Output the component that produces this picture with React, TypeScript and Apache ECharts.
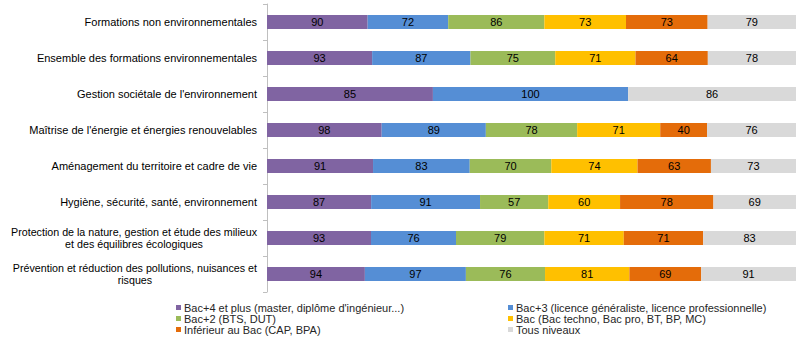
import React, { useEffect, useRef } from "react";
import * as echarts from "echarts";

const categories = [
  "Formations non environnementales",
  "Ensemble des formations environnementales",
  "Gestion sociétale de l'environnement",
  "Maîtrise de l'énergie et énergies renouvelables",
  "Aménagement du territoire et cadre de vie",
  "Hygiène, sécurité, santé, environnement",
  "Protection de la nature, gestion et étude des milieux\net des équilibres écologiques",
  "Prévention et réduction des pollutions, nuisances et\nrisques",
];

const seriesNames = [
  "Bac+4 et plus (master, diplôme d'ingénieur...)",
  "Bac+3 (licence généraliste, licence professionnelle)",
  "Bac+2 (BTS, DUT)",
  "Bac (Bac techno, Bac pro, BT, BP, MC)",
  "Inférieur au Bac (CAP, BPA)",
  "Tous niveaux",
];

const bac4 = [90, 93, 85, 98, 91, 87, 93, 94];
const bac3 = [72, 87, 100, 89, 83, 91, 76, 97];
const bac2 = [86, 75, null, 78, 70, 57, 79, 76];
const bac = [73, 71, null, 71, 74, 60, 71, 81];
const infBac = [73, 64, null, 40, 63, 78, 71, 69];
const tous = [79, 78, 86, 76, 73, 69, 83, 91];

const colors = ["#8064A2", "#558ED5", "#9BBB59", "#FFC000", "#E46C0A", "#D9D9D9"];

const FONT = "'Liberation Sans', Arial, sans-serif";

export default function App() {
  const ref = useRef<HTMLDivElement>(null);
  useEffect(() => {
    if (!ref.current) return;
    const chart = echarts.init(ref.current, undefined, { renderer: "svg" });
    const allSeries = [bac4, bac3, bac2, bac, infBac, tous];
    const totals = categories.map((_, i) =>
      allSeries.reduce((s, arr) => s + (arr[i] == null ? 0 : (arr[i] as number)), 0)
    );
    const series = allSeries.map((arr, si) => ({
      name: seriesNames[si],
      type: "bar",
      stack: "total",
      barWidth: 14,
      itemStyle: { color: colors[si] },
      label: {
        show: true,
        position: "inside",
        color: "#000",
        fontSize: 11,
        fontFamily: FONT,
        formatter: (p: any) => (p.data && p.data.raw != null ? String(p.data.raw) : ""),
      },
      data: arr.map((v, i) =>
        v == null ? { value: null, raw: null } : { value: ((v as number) / totals[i]) * 100, raw: v }
      ),
    }));
    const legendCommon = {
      orient: "vertical",
      itemWidth: 5,
      itemHeight: 5,
      itemGap: 0,
      padding: 0,
      icon: "rect",
      selectedMode: false,
      textStyle: {
        fontSize: 11,
        fontFamily: FONT,
        color: "#262626",
        lineHeight: 10.7,
        padding: [0, 0, 0, -2],
      },
    };
    chart.setOption({
      animation: false,
      grid: { left: 267, right: 4, top: 4, height: 288, containLabel: false },
      legend: [
        { ...legendCommon, left: 176, top: 302, data: [seriesNames[0], seriesNames[2], seriesNames[4]] },
        { ...legendCommon, left: 508, top: 302, data: [seriesNames[1], seriesNames[3], seriesNames[5]] },
      ],
      xAxis: {
        type: "value",
        min: 0,
        max: 100,
        show: false,
        splitLine: { show: false },
      },
      yAxis: {
        type: "category",
        inverse: true,
        data: categories,
        axisLine: { show: true, lineStyle: { color: "#BFBFBF" } },
        axisTick: { show: true, length: 4, interval: 0, lineStyle: { color: "#BFBFBF" } },
        axisLabel: {
          interval: 0,
          margin: 10,
          fontSize: 11,
          fontFamily: FONT,
          color: "#000",
          formatter: (v: string) => {
            const lines = v.split("\n");
            const key = lines.length > 1 ? "m" : "c";
            return lines.map((l) => "{" + key + "|" + l + "}").join("\n");
          },
          rich: {
            c: { fontSize: 11, fontFamily: FONT, color: "#000", lineHeight: 12, align: "center" },
            m: { fontSize: 10.7, fontFamily: FONT, color: "#000", lineHeight: 12, align: "center" },
          },
        },
      },
      series,
    });
    return () => chart.dispose();
  }, []);
  return (
    <div
      ref={ref}
      style={{ position: "fixed", top: 0, left: 0, width: 800, height: 339, background: "#fff" }}
    />
  );
}
